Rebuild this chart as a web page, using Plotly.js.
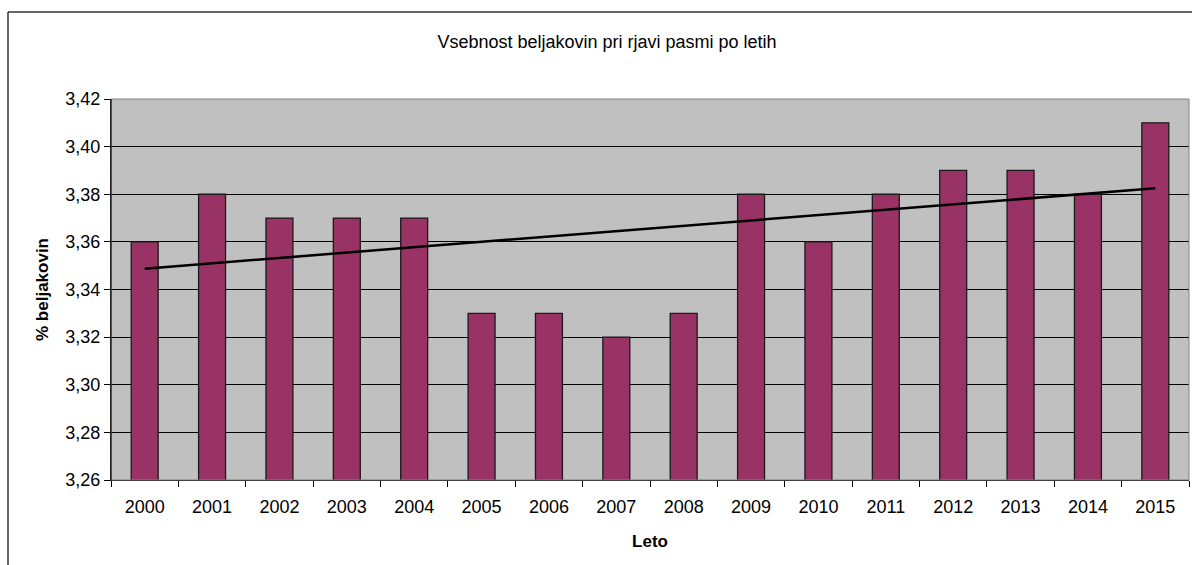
<!DOCTYPE html>
<html>
<head>
<meta charset="utf-8">
<script src="https://cdn.plot.ly/plotly-3.0.1.min.js"></script>
<style>
html,body{margin:0;padding:0;background:#fff;}
#chart{width:1192px;height:565px;}
</style>
</head>
<body>
<div id="chart"></div>
<script>
const years = ["2000","2001","2002","2003","2004","2005","2006","2007","2008","2009","2010","2011","2012","2013","2014","2015"];
const protein = [3.36,3.38,3.37,3.37,3.37,3.33,3.33,3.32,3.33,3.38,3.36,3.38,3.39,3.39,3.38,3.41];
const yTicks = [3.26,3.28,3.30,3.32,3.34,3.36,3.38,3.40,3.42];
const titleText = "Vsebnost beljakovin pri rjavi pasmi po letih";
const yTitle = "% beljakovin";
const xTitle = "Leto";

// linear trendline (least squares) over the data
const n = protein.length;
let sx=0, sy=0, sxy=0, sxx=0;
for (let i=0;i<n;i++){ sx+=i; sy+=protein[i]; sxy+=i*protein[i]; sxx+=i*i; }
const slope = (n*sxy - sx*sy)/(n*sxx - sx*sx);
const intercept = (sy - slope*sx)/n;
const trendY = years.map((_,i)=>intercept + slope*i);

const font = "Liberation Sans, Arial, sans-serif";
const W=1192,H=565,L=111,R=3,T=99,B=85;
const pw=W-L-R, ph=H-T-B;
const px = x => (x-L)/pw;
const py = y => (H-B-y)/ph;

const data = [
  {type:"bar", x:years, y:protein, marker:{color:"#993366", line:{color:"#1a1a1a", width:1.3}}, hoverinfo:"x+y"},
  {type:"scatter", mode:"lines", x:years, y:trendY, line:{color:"#000", width:2.5}, hoverinfo:"skip"}
];

const layout = {
  width:W, height:H,
  margin:{l:L, r:R, t:T, b:B},
  paper_bgcolor:"#fff", plot_bgcolor:"#c0c0c0",
  separators:",.",
  showlegend:false,
  bargap:0.6,
  font:{family:font, size:18, color:"#000"},
  title:{text:titleText, font:{family:font, size:18, color:"#000"}, x:607/W, xref:"container", xanchor:"center", y:1-42/H, yref:"container", yanchor:"middle"},
  xaxis:{type:"category", tickson:"boundaries", ticks:"outside", ticklen:6, tickcolor:"#000", showgrid:false, showline:true, linecolor:"#000", linewidth:1,
         ticklabelstandoff:10,
         tickfont:{family:font, size:18}, title:{text:xTitle, font:{family:font, size:17, weight:"bold"}, standoff:19}},
  yaxis:{range:[3.26,3.42], tickvals:yTicks, tickformat:".2f", ticks:"outside", ticklen:6, tickcolor:"#000", showgrid:true, gridcolor:"#000", gridwidth:1,
         showline:true, linecolor:"#000", linewidth:1, zeroline:false, tickfont:{family:font, size:18},
         title:{text:yTitle, font:{family:font, size:17, weight:"bold"}, standoff:12}},
  shapes:[
    {type:"rect", xref:"paper", yref:"paper", x0:0, x1:1, y0:0, y1:1, line:{color:"#808080", width:1}, layer:"above"},
    {type:"line", xref:"paper", yref:"paper", x0:0, x1:0, y0:0, y1:1, line:{color:"#000", width:1}, layer:"above"},
    {type:"line", xref:"paper", yref:"paper", x0:px(8), x1:px(8), y0:py(12), y1:py(600), line:{color:"#333", width:1.5}},
    {type:"line", xref:"paper", yref:"paper", x0:px(8), x1:px(1250), y0:py(12), y1:py(12), line:{color:"#333", width:1.5}}
  ]
};

Plotly.newPlot("chart", data, layout, {displayModeBar:false, staticPlot:true});
</script>
</body>
</html>
